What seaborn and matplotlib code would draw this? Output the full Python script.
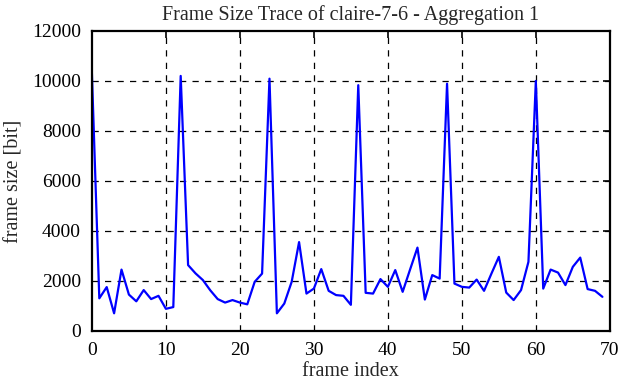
import numpy as np
import pandas as pd
import matplotlib
matplotlib.use("Agg")
import matplotlib.pyplot as plt
import seaborn as sns

# frame sizes (bits), one per frame index
frame_index = list(range(70))
frame_size = [
    10300, 1300, 1750, 700, 2450, 1450, 1180, 1630, 1270, 1400,
    880, 950, 10200, 2630, 2300, 2030, 1620, 1270, 1130, 1230,
    1130, 1060, 1960, 2290, 10090, 700, 1090, 1960, 3550, 1490,
    1690, 2470, 1600, 1430, 1400, 1040, 9830, 1520, 1490, 2070,
    1760, 2430, 1560, 2450, 3330, 1250, 2230, 2090, 9890, 1890,
    1760, 1730, 2050, 1600, 2290, 2960, 1530, 1230, 1630, 2760,
    10000, 1690, 2450, 2330, 1830, 2560, 2930, 1670, 1600, 1360,
]

x_ticks = [0, 10, 20, 30, 40, 50, 60, 70]
y_ticks = [0, 2000, 4000, 6000, 8000, 10000, 12000]

df = pd.DataFrame({"frame index": frame_index, "frame size": frame_size})

sns.set_style("white")
plt.rcParams["font.family"] = ["Liberation Serif", "DejaVu Serif"]

fig, ax = plt.subplots(figsize=(6.21, 3.82), dpi=100)
fig.subplots_adjust(left=0.148, right=0.982, bottom=0.134, top=0.919)

sns.lineplot(data=df, x="frame index", y="frame size", color="#0000ff",
             linewidth=1.6, ax=ax)

ax.set_xlim(0, 70)
ax.set_ylim(0, 12000)
ax.set_xticks(x_ticks)
ax.set_yticks(y_ticks)

# dashed grid like gnuplot
for xv in x_ticks[1:-1]:
    ax.axvline(xv, color="black", linestyle=(0, (5, 5)), linewidth=0.9, zorder=0)
for yv in y_ticks[1:-1]:
    ax.axhline(yv, color="black", linestyle=(0, (5, 5)), linewidth=0.9, zorder=0)

for sp in ax.spines.values():
    sp.set_visible(True)
    sp.set_color("black")
    sp.set_linewidth(1.6)

ax.tick_params(direction="in", length=5, width=1.2, top=True, right=True,
               labelsize=14, colors="black", pad=8)

ax.set_title("Frame Size Trace of claire-7-6 - Aggregation 1", fontsize=14.5, pad=8)
ax.set_xlabel("frame index", fontsize=14.5, labelpad=2)
ax.set_ylabel("frame size [bit]", fontsize=14.5, labelpad=6)

fig.savefig("out.png", dpi=100)
